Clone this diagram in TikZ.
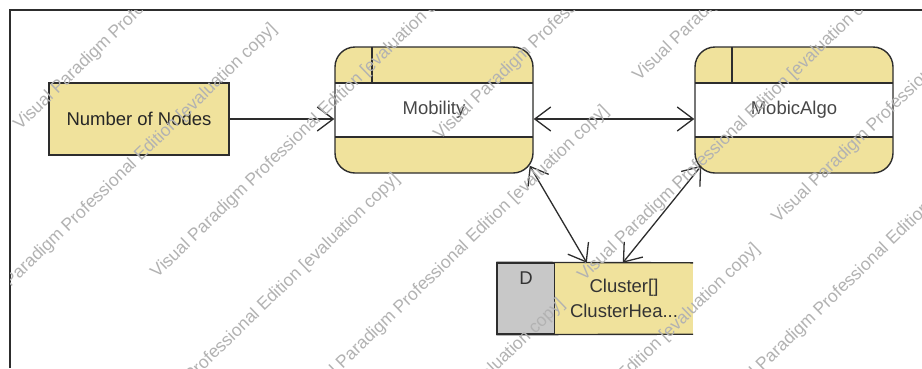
\documentclass[tikz,border=0pt]{standalone}
\usepackage{fontspec}
\setmainfont{Liberation Sans}
\usetikzlibrary{arrows.meta,calc}
\definecolor{dfdy}{RGB}{240,226,156}
\definecolor{dsg}{RGB}{200,200,200}
\definecolor{lc}{RGB}{45,45,45}
\definecolor{wm}{RGB}{178,178,178}
\begin{document}
\begin{tikzpicture}[x=1pt,y=-1pt,
  lbl/.style={font=\fontsize{18.5}{25}\selectfont},
  ent/.style={lbl, draw=lc, fill=dfdy, line width=1.4pt, minimum width=180pt, minimum height=72pt, inner sep=0pt, text=black!85},
  proc/.style={lbl, draw=lc, fill=dfdy, line width=1.4pt, rounded corners=20pt,
    minimum width=198pt, minimum height=126pt, inner sep=0pt, text=black!72,
    path picture={
      \fill[white, sharp corners] ([yshift=-36pt]path picture bounding box.north west) rectangle ([yshift=36pt]path picture bounding box.south east);
      \draw[lc, line width=1.4pt, sharp corners] ([yshift=-36pt]path picture bounding box.north west) -- ([yshift=-36pt]path picture bounding box.north east);
      \draw[lc, line width=1.4pt, sharp corners] ([yshift=36pt]path picture bounding box.south west) -- ([yshift=36pt]path picture bounding box.south east);
      \draw[lc, line width=1.4pt, sharp corners] ([xshift=37pt]path picture bounding box.north west) -- ([xshift=37pt,yshift=-36pt]path picture bounding box.north west);
    }},
  dsid/.style={draw=lc, fill=dsg, line width=1.4pt, minimum width=58pt, minimum height=71pt, inner sep=0pt},
  dsmain/.style={lbl, fill=dfdy, minimum width=138pt, minimum height=71pt, inner sep=0pt, align=center, text=black!80},
  flow/.style={draw=lc, line width=1.3pt, -{Straight Barb[length=16pt,width=24pt]}},
  biflow/.style={draw=lc, line width=1.3pt, {Straight Barb[length=16pt,width=24pt]}-{Straight Barb[length=16pt,width=24pt]}},
  wmk/.style={anchor=base west, rotate=44, text=wm, inner sep=0pt, font=\fontsize{17.5}{20}\selectfont}
]
\useasboundingbox (0,0) rectangle (922,368);
\fill[white] (0,0) rectangle (922,368);
\draw[lc, line width=1.5pt] (10,368) -- (10,10) -- (922,10);

% nodes
\node[ent] (nn) at (139,119) {Number of Nodes};
\node[proc] (mob) at (434,110) {\raisebox{-2pt}{Mobility}};
\node[proc] (mal) at (794,110) {\raisebox{-2pt}{MobicAlgo}};
\node[dsid] (dsd) at (526,298.5) {};
\node[dsmain] (dsm) at (624,298.5) {Cluster[]\\ClusterHea...};
\node[lbl, anchor=north, inner sep=3pt, text=black!80] (dtxt) at ([yshift=-6pt]dsd.north) {D};
\draw[lc, line width=1.4pt] (dsd.north west) -- (dsm.north east);
\draw[lc, line width=1.4pt] (dsd.south west) -- (dsm.south east);

% connectors
\draw[flow] (nn.east) -- (nn.east -| mob.west);
\draw[biflow] ([yshift=-9pt]mob.east) -- ([yshift=-9pt]mal.west);
\draw[biflow] ($(mob.south east)+(-4,-8)$) -- ([xshift=32pt]dsm.north west);
\draw[biflow] ($(mal.south west)+(7,-8)$) -- ([xshift=68pt]dsm.north west);

% watermark
\begin{scope}
\clip (10.8,10.8) rectangle (922,368);
\foreach \wx/\wy in {20/131, -27/324, 157/279, 440/141, 639/82, 305/406, 96/474, 584/282, 261/599, 456/544, 778/224, 725/408}
  \node[wmk] at (\wx,\wy) {Visual Paradigm Professional Edition [evaluation copy]};
\end{scope}
\end{tikzpicture}
\end{document}
